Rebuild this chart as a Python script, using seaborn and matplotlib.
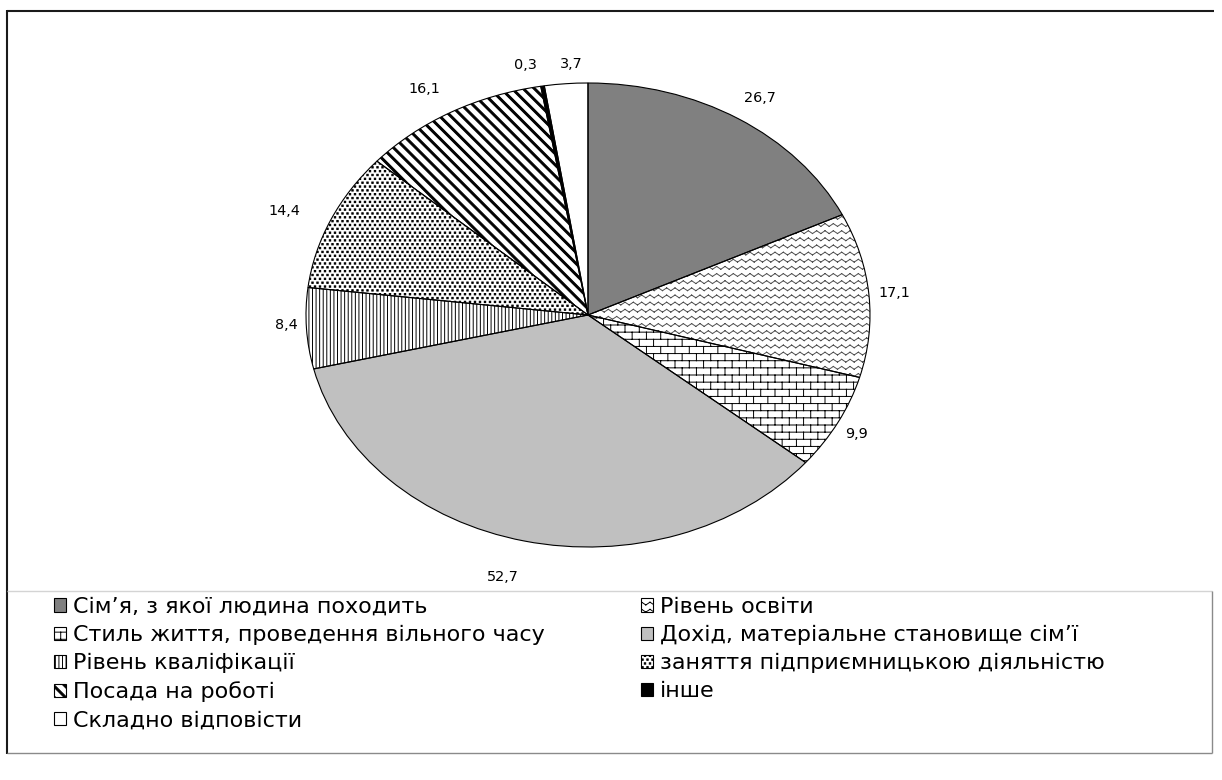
import numpy as np
import matplotlib
matplotlib.use("Agg")
import matplotlib.pyplot as plt
import matplotlib.hatch as mhatch
from matplotlib.path import Path
from matplotlib.patches import Patch
from matplotlib.lines import Line2D
import seaborn as sns

# ---------------------------------------------------------------- data
categories = [
    "Сім’я, з якої людина походить",
    "Рівень освіти",
    "Стиль життя, проведення вільного часу",
    "Дохід, матеріальне становище сім’ї",
    "Рівень кваліфікації",
    "заняття підприємницькою діяльністю",
    "Посада на роботі",
    "інше",
    "Складно відповісти",
]
values = [26.7, 17.1, 9.9, 52.7, 8.4, 14.4, 16.1, 0.3, 3.7]

# ---------------------------------------------------------------- styling
fills = ["#808080", "white", "white", "#c0c0c0", "white", "white", "white",
         "black", "white"]
hatches = [None, "x", "+", None, "|", ".", "\\", None, None]
hatch_colors = ["black", "#505050", "black", "black", "black", "black",
                "black", "black", "black"]
# nudges (pixels, x right / y down) that keep value labels clear of each other
label_nudge = [(4, 3), (-8, 1), (-12, -1), (-14, 9), (14, -5), (-15, 2),
               (-10, 1), (-12, 6), (8, 8)]

sns.set_theme(style="white")
plt.rcParams["font.family"] = ["DejaVu Sans"]
plt.rcParams["text.color"] = "black"
plt.rcParams["hatch.linewidth"] = 0.7

# ---------------------------------------------------------------- hatch tiles
# Every pattern lives in one unit tile (1 inch); coordinates are y-up.
M, L, C = Path.MOVETO, Path.LINETO, Path.CLOSEPOLY


def _segments(segs):
    v, c = [], []
    for p0, p1 in segs:
        v += [p0, p1]
        c += [M, L]
    return v, c


def _polygons(polys):
    v, c = [], []
    for poly in polys:
        v += list(poly) + [poly[0]]
        c += [M] + [L] * (len(poly) - 1) + [C]
    return v, c


def tile_vertical(n=28):
    return _segments([(((i + 0.5) / n, -0.1), ((i + 0.5) / n, 1.1))
                      for i in range(n)])


def tile_bricks(n=14, m=7):
    segs = [((-0.1, (i + 0.5) / n), (1.1, (i + 0.5) / n)) for i in range(n)]
    for i in range(-1, n):
        off = 0.25 + 0.5 * (i % 2)
        for j in range(-1, m + 1):
            x = (j + off) / m
            segs.append(((x, (i + 0.5) / n), (x, (i + 1.5) / n)))
    return _segments(segs)


def tile_waves(n=14, p=12, a=0.014):
    segs = []
    for i in range(n):
        y0 = (i + 0.5) / n
        pts = [(k / (2 * p), y0 + (a if k % 2 == 0 else -a))
               for k in range(-2, 2 * p + 3)]
        segs += list(zip(pts[:-1], pts[1:]))
    return _segments(segs)


def tile_dots(r=26, q=20, s=0.014):
    polys = []
    for i in range(r):
        cy = (i + 0.5) / r
        for j in range(-1, q + 1):
            cx = (j + 0.5 + 0.5 * (i % 2)) / q
            polys.append([(cx - s / 2, cy - s / 2), (cx + s / 2, cy - s / 2),
                          (cx + s / 2, cy + s / 2), (cx - s / 2, cy + s / 2)])
    return _polygons(polys)


def tile_stripes(n=9, w=0.028):
    polys = []
    for k in range(-2, 2 * n + 2):
        c0 = k / n
        c1 = c0 + w
        polys.append([(-0.5, c0 + 0.5), (c0 + 0.5, -0.5),
                      (c1 + 0.5, -0.5), (-0.5, c1 + 0.5)])
    return _polygons(polys)


PATTERN_BUILDERS = {"|": tile_vertical, ".": tile_dots, "\\": tile_stripes,
                    "+": tile_bricks, "x": tile_waves}


class TileHatch(mhatch.HatchPatternBase):
    def __init__(self, hatch, density):
        verts, codes = [], []
        for ch, build in PATTERN_BUILDERS.items():
            if ch in hatch:
                v, c = build()
                verts += v
                codes += c
        self.verts = np.array(verts, dtype=float).reshape(-1, 2)
        self.codes = np.array(codes, dtype=Path.code_type)
        self.num_vertices = len(self.codes)

    def set_vertices_and_codes(self, vertices, codes):
        vertices[:] = self.verts
        codes[:] = self.codes


mhatch._hatch_types[:] = [TileHatch]

# ---------------------------------------------------------------- figure
W, H = 1222, 780
fig = plt.figure(figsize=(W / 100, H / 100), dpi=100)
fig.patch.set_facecolor("white")


def fx(x):
    return x / W


def fy(y):
    return 1 - y / H


ax = fig.add_axes([fx(306), fy(547), fx(870) - fx(306), fy(83) - fy(547)])

wedges, _ = ax.pie(values, startangle=90, counterclock=False, colors=fills,
                   wedgeprops=dict(linewidth=0))
for w, h, hc in zip(wedges, hatches, hatch_colors):
    w.set_hatch(h)
    w.set_edgecolor(hc)
    w.set_linewidth(0)

# slice outlines on top
ax.pie(values, startangle=90, counterclock=False,
       wedgeprops=dict(fill=False, edgecolor="black", linewidth=0.8))

ax.set_aspect("auto")
ax.set_xlim(-1, 1)
ax.set_ylim(-1, 1)
ax.axis("off")

for w, v, (dx, dy) in zip(wedges, values, label_nudge):
    mid = np.deg2rad((w.theta1 + w.theta2) / 2)
    ax.annotate(f"{v:.1f}".replace(".", ","),
                xy=(1.12 * np.cos(mid), 1.12 * np.sin(mid)),
                xytext=(dx * 0.72, -dy * 0.72), textcoords="offset points",
                ha="center", va="center", fontsize=10.4, color="black",
                annotation_clip=False)

# ---------------------------------------------------------------- legend
handles = [Patch(facecolor=f, hatch=h, edgecolor="black", linewidth=0.8)
           for f, h in zip(fills, hatches)]

legend_kw = dict(loc="upper left", frameon=False, fontsize=16,
                 handlelength=0.55, handleheight=0.55, handletextpad=0.3,
                 labelspacing=0.36, borderpad=0, borderaxespad=0)

left_idx = [0, 2, 4, 6, 8]
right_idx = [1, 3, 5, 7]
fig.legend([handles[i] for i in left_idx], [categories[i] for i in left_idx],
           bbox_to_anchor=(fx(54), fy(597)), **legend_kw)
fig.legend([handles[i] for i in right_idx], [categories[i] for i in right_idx],
           bbox_to_anchor=(fx(641), fy(597)), **legend_kw)

# ---------------------------------------------------------------- frame
def line(x0, y0, x1, y1, color, lw):
    fig.add_artist(Line2D([fx(x0), fx(x1)], [fy(y0), fy(y1)],
                          transform=fig.transFigure, color=color,
                          linewidth=lw, solid_capstyle="butt"))


line(7, 11, 1214, 11, "#1a1a1a", 1.5)
line(7, 10, 7, 754, "#1a1a1a", 1.5)
line(7, 591, 1212, 591, "#d4d4d4", 1.0)
line(1212, 591, 1212, 753, "#8a8a8a", 1.0)
line(7, 753, 1212, 753, "#8a8a8a", 1.0)

fig.savefig("out.png", dpi=100)
